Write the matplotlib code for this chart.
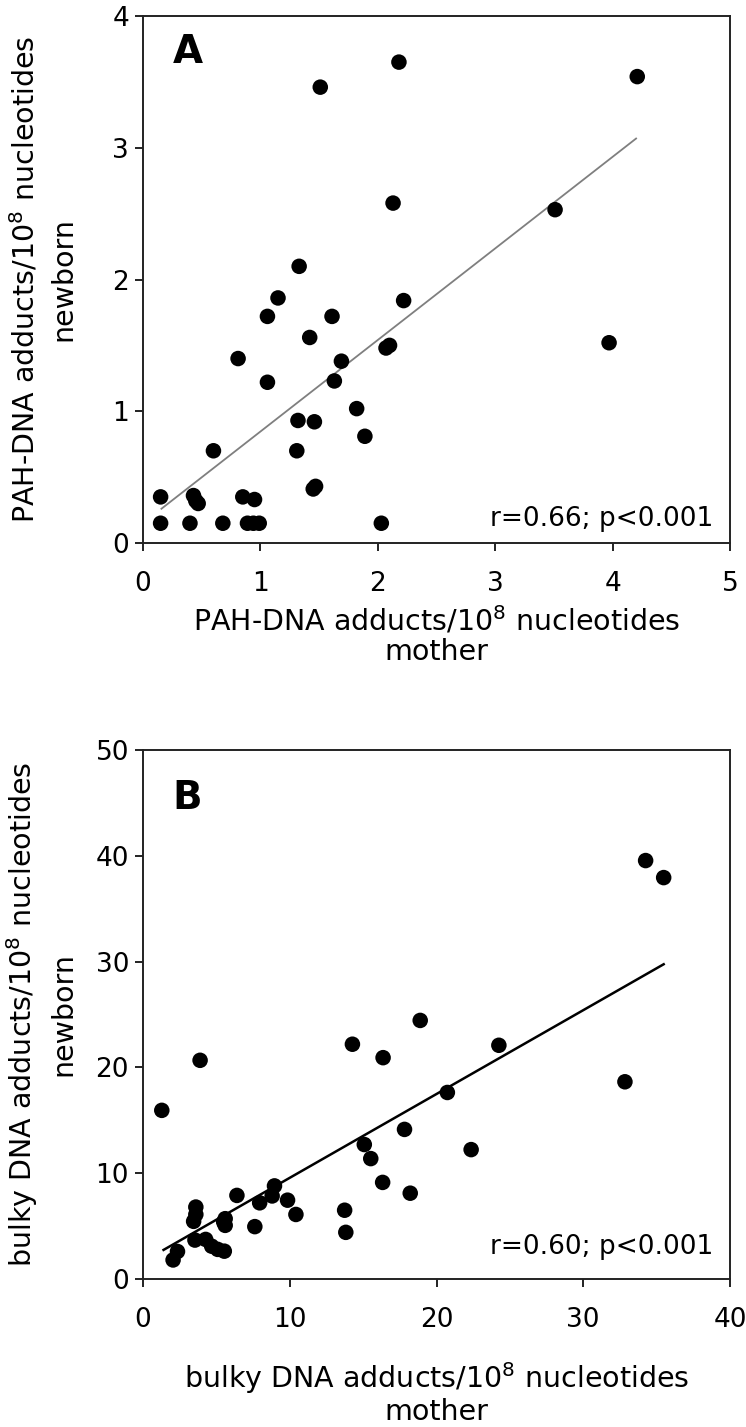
import matplotlib
matplotlib.use("Agg")
import matplotlib.pyplot as plt
import numpy as np

plt.rcParams['font.family'] = ['DejaVu Sans']
plt.rcParams['mathtext.fontset'] = 'dejavusans'

# Panel A: PAH-DNA adducts (mother vs newborn)
pah_mother = [2.18, 1.51, 4.21, 2.13, 3.51, 1.33, 1.15, 2.22, 1.06, 1.61, 1.42, 3.97,
              2.07, 2.10, 0.81, 1.69, 1.06, 1.63, 1.82, 1.32, 1.46, 1.89, 0.60, 1.31,
              1.45, 1.47, 0.15, 0.43, 0.45, 0.47, 0.85, 0.95, 0.15, 0.40, 0.68, 0.89,
              0.94, 0.99, 2.03]
pah_newborn = [3.65, 3.46, 3.54, 2.58, 2.53, 2.10, 1.86, 1.84, 1.72, 1.72, 1.56, 1.52,
               1.48, 1.50, 1.40, 1.38, 1.22, 1.23, 1.02, 0.93, 0.92, 0.81, 0.70, 0.70,
               0.41, 0.43, 0.35, 0.36, 0.32, 0.30, 0.35, 0.33, 0.15, 0.15, 0.15, 0.15,
               0.15, 0.15, 0.15]
pah_fit_x = [0.157, 4.20]
pah_fit_y = [0.26, 3.07]

# Panel B: bulky DNA adducts (mother vs newborn)
bulky_mother = [34.25, 35.48, 18.89, 14.27, 24.25, 3.89, 16.36, 32.84, 20.74, 1.28,
                17.82, 15.08, 22.36, 15.52, 16.33, 18.21, 8.96, 8.80, 6.40, 9.85, 7.95,
                10.42, 13.74, 13.82, 7.62, 3.60, 3.60, 3.45, 5.60, 5.60, 5.50, 3.54,
                4.27, 4.68, 5.09, 5.54, 2.35, 2.05]
bulky_newborn = [39.55, 37.94, 24.44, 22.19, 22.09, 20.67, 20.92, 18.64, 17.63, 15.94,
                 14.14, 12.71, 12.23, 11.38, 9.13, 8.11, 8.80, 7.85, 7.90, 7.45, 7.20,
                 6.10, 6.50, 4.41, 4.95, 6.80, 6.10, 5.45, 5.70, 5.07, 5.38, 3.68,
                 3.74, 3.10, 2.80, 2.63, 2.60, 1.80]
bulky_fit_x = [1.40, 35.48]
bulky_fit_y = [2.75, 29.75]

panels = [
    dict(x=pah_mother, y=pah_newborn, fx=pah_fit_x, fy=pah_fit_y, fitcolor='#7f7f7f', fitlw=1.3,
         xlim=(0, 5), ylim=(0, 4), xticks=[0, 1, 2, 3, 4, 5], yticks=[0, 1, 2, 3, 4],
         letter='A', letter_y=0.968, stat='r=0.66; p<0.001', stat_y=0.02, xlab_y=-0.116,
         xlabel='PAH-DNA adducts/10$^8$ nucleotides\nmother',
         ylabel='PAH-DNA adducts/10$^8$ nucleotides\nnewborn',
         rect=[143/746, 1-543/1427, 587/746, 527/1427]),
    dict(x=bulky_mother, y=bulky_newborn, fx=bulky_fit_x, fy=bulky_fit_y, fitcolor='black', fitlw=1.8,
         xlim=(0, 40), ylim=(0, 50), xticks=[0, 10, 20, 30, 40], yticks=[0, 10, 20, 30, 40, 50],
         letter='B', letter_y=0.945, stat='r=0.60; p<0.001', stat_y=0.035, xlab_y=-0.153,
         xlabel='bulky DNA adducts/10$^8$ nucleotides\nmother',
         ylabel='bulky DNA adducts/10$^8$ nucleotides\nnewborn',
         rect=[143/746, 1-1279/1427, 587/746, 529/1427]),
]

fig = plt.figure(figsize=(7.46, 14.27), dpi=100)

for p in panels:
    ax = fig.add_axes(p['rect'])
    ax.scatter(p['x'], p['y'], s=125, color='black', edgecolors='none', zorder=3)
    ax.plot(p['fx'], p['fy'], color=p['fitcolor'], lw=p['fitlw'], zorder=2)
    ax.set_xlim(*p['xlim'])
    ax.set_ylim(*p['ylim'])
    ax.set_xticks(p['xticks'])
    ax.set_yticks(p['yticks'])
    for s in ax.spines.values():
        s.set_linewidth(1.4)
        s.set_color('#222222')
    ax.tick_params(axis='both', direction='out', length=6, width=1.4, labelsize=19,
                   color='#222222', top=False, right=False)
    ax.tick_params(axis='x', pad=14)
    ax.tick_params(axis='y', pad=4)
    ax.text(0.05, p['letter_y'], p['letter'], transform=ax.transAxes, fontsize=28,
            fontweight='bold', va='top', ha='left')
    ax.text(0.971, p['stat_y'], p['stat'], transform=ax.transAxes, fontsize=19,
            va='bottom', ha='right')
    ax.set_xlabel(p['xlabel'], fontsize=20.5, linespacing=1.1)
    ax.set_ylabel(p['ylabel'], fontsize=20.5, linespacing=1.4)
    ax.xaxis.set_label_coords(0.5, p['xlab_y'])
    ax.yaxis.set_label_coords(-0.112, 0.5)

fig.savefig('out.png', dpi=100)
